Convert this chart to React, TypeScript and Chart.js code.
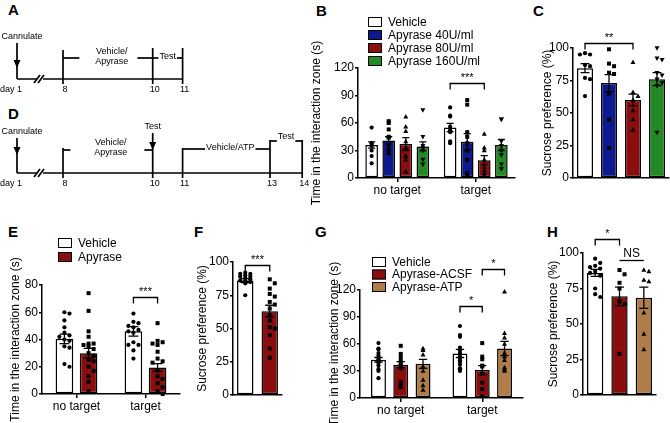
import React, { useEffect, useRef } from 'react';
import { Chart, registerables } from 'chart.js';
Chart.register(...registerables);

const FONT = '"Liberation Sans", Arial, Helvetica, sans-serif';
const WHITE = '#ffffff';
const BLUE = '#0c1a8e';
const RED = '#8a0e0e';
const GREEN = '#238a23';
const TAN = '#b07c48';

// ---------- Timelines (schematic axis positions of day marks) ----------
const tlADays = ['day 1', '8', '10', '11'];
const tlAPos = [0, 1, 2.95, 3.6];
const tlDDays = ['day 1', '8', '10', '11', '13', '14'];
const tlDPos = [0, 1, 2.95, 3.6, 5.5, 6.2];

// ---------- Panel B ----------
const bGroups = ['no target', 'target'];
const bSeries = ['Vehicle', 'Apyrase 40U/ml', 'Apyrase 80U/ml', 'Apyrase 160U/ml'];
const bMean = [[36, 55], [41, 39.5], [37, 19.5], [34.5, 36]];
const bSem = [[3.5, 4.5], [4, 9], [7, 5], [5, 6]];
const bPts = [
  [[55, 38, 37, 35, 30, 24, 16], [77, 68, 67, 56, 52, 50, 40, 38]],
  [[62, 60, 53, 44, 36, 31, 27, 45], [85, 80, 50, 45, 38, 30, 20, 5, 2]],
  [[67, 56, 51, 40, 33, 20, 7, 24], [48, 33, 30, 20, 12, 5, 2, 8]],
  [[74, 45, 35, 33, 30, 20, 15], [64, 64, 40, 35, 30, 25, 15, 10]],
];

// ---------- Panel C ----------
const cGroups = [''];
const cMean = [[84.5], [73], [60], [76]];
const cSem = [[3.5], [6.5], [4.5], [5]];
const cPts = [
  [[96, 95, 95, 87, 86, 77, 76, 63]],
  [[99, 88, 86, 81, 80, 65, 45, 23]],
  [[89, 66, 63, 60, 52, 45, 37]],
  [[100, 92, 91, 81, 79, 76, 73, 71, 35]],
];

// ---------- Panel E ----------
const eGroups = ['no target', 'target'];
const eSeries = ['Vehicle', 'Apyrase'];
const eMean = [[40.5, 46], [30, 19.5]];
const eSem = [[3.5, 3.5], [3.5, 2.8]];
const ePts = [
  [[60, 59, 54, 49, 45, 43, 42, 40, 39, 35, 34, 22, 20], [59, 53, 52, 50, 49, 47, 46, 45, 38, 36, 36, 32, 26]],
  [[74, 61, 46, 42, 37, 37, 36, 35, 33, 30, 28, 25, 24, 20, 17, 13, 9, 2], [52, 39, 38, 37, 36, 31, 26, 24, 23, 17, 13, 11, 8, 5, 2, 0]],
];

// ---------- Panel F ----------
const fGroups = [''];
const fMean = [[86], [63]];
const fSem = [[1.5], [4.5]];
const fPts = [
  [[92, 91, 91, 90, 89, 89, 88, 87, 86, 86, 85, 84, 75]],
  [[87, 84, 80, 76, 74, 70, 68, 65, 60, 56, 51, 50, 45, 35, 28]],
];

// ---------- Panel G ----------
const gGroups = ['no target', 'target'];
const gSeries = ['Vehicle', 'Apyrase-ACSF', 'Apyrase-ATP'];
const gMean = [[42.5, 49.5], [37, 31], [38, 55]];
const gSem = [[2.5, 4.5], [3.5, 5], [5, 8]];
const gPts = [
  [[61, 55, 54, 50, 47, 45, 43, 41, 39, 36, 32, 30, 22], [80, 70, 68, 56, 53, 50, 48, 45, 42, 40, 37, 33, 32, 30]],
  [[58, 49, 45, 41, 37, 36, 33, 18, 14, 12], [61, 46, 43, 36, 35, 27, 17, 10, 2]],
  [[55, 53, 48, 35, 30, 20, 14, 9], [118, 72, 67, 60, 50, 46, 42, 34, 32, 30]],
];

// ---------- Panel H ----------
const hGroups = [''];
const hMean = [[86], [69.5], [68.5]];
const hSem = [[2.5], [6.5], [7.5]];
const hPts = [
  [[96, 93, 91, 90, 89, 87, 86, 84, 75, 71, 69]],
  [[88, 85, 79, 75, 66, 64, 29]],
  [[88, 87, 81, 80, 58, 43, 32]],
];

type Marker = 'circle' | 'square' | 'triUp' | 'triDown';
interface Sig { group: number; a: number; b: number; y: number; text: string; tips?: boolean; }
interface PanelProps {
  groups: string[]; showLabels: boolean; xTicks: boolean;
  names: string[]; colors: string[]; markers: Marker[];
  mean: number[][]; sem: number[][]; pts: number[][][];
  yMax: number; yStep: number; yTitle: string;
  box: { l: number; t: number; w: number; h: number };
  plot: { l: number; t: number; r: number; b: number };
  titleX: number; catPct: number; barPct: number;
  legend?: { x: number; y: number; dy: number };
  sigs: Sig[];
}

function drawMarker(ctx: CanvasRenderingContext2D, m: Marker, x: number, y: number) {
  ctx.beginPath();
  if (m === 'circle') ctx.arc(x, y, 2.1, 0, Math.PI * 2);
  else if (m === 'square') ctx.rect(x - 2, y - 2, 4, 4);
  else if (m === 'triUp') { ctx.moveTo(x, y - 2.7); ctx.lineTo(x + 2.5, y + 1.8); ctx.lineTo(x - 2.5, y + 1.8); ctx.closePath(); }
  else { ctx.moveTo(x, y + 2.7); ctx.lineTo(x + 2.5, y - 1.8); ctx.lineTo(x - 2.5, y - 1.8); ctx.closePath(); }
  ctx.fill();
}

function swarm(ys: number[], cx: number, halfW: number, s: number): number[] {
  const order = ys.map((_, i) => i).sort((a, b) => ys[a] - ys[b]);
  const placed: { x: number; y: number }[] = [];
  const xs = new Array(ys.length).fill(cx);
  const step = s * 1.15;
  for (const i of order) {
    const y = ys[i];
    let best = cx, bestScore = Infinity;
    for (let k = 0; k < 14; k++) {
      const off = (k % 2 === 1 ? 1 : -1) * Math.ceil(k / 2) * step;
      if (Math.abs(off) > halfW) continue;
      const x = cx + off;
      let overlap = 0;
      for (const q of placed) {
        const d = Math.hypot(q.x - x, q.y - y);
        if (d < step) overlap += step - d;
      }
      if (overlap < 0.01) { best = x; bestScore = 0; break; }
      if (overlap < bestScore) { bestScore = overlap; best = x; }
    }
    xs[i] = best;
    placed.push({ x: best, y });
  }
  return xs;
}

const decor = (p: PanelProps) => ({
  id: 'decor',
  afterDatasetsDraw(chart: any) {
    const ctx: CanvasRenderingContext2D = chart.ctx;
    const ys = chart.scales.y;
    ctx.save();
    p.names.forEach((_, i) => {
      const meta = chart.getDatasetMeta(i);
      meta.data.forEach((bar: any, j: number) => {
        const w = bar.width, cx = bar.x;
        const top = ys.getPixelForValue(p.mean[i][j] + p.sem[i][j]);
        const bot = ys.getPixelForValue(p.mean[i][j] - p.sem[i][j]);
        ctx.strokeStyle = '#000';
        ctx.lineWidth = 1.3;
        ctx.beginPath();
        ctx.moveTo(cx, top); ctx.lineTo(cx, bot);
        ctx.moveTo(cx - w * 0.28, top); ctx.lineTo(cx + w * 0.28, top);
        ctx.moveTo(cx - w * 0.28, bot); ctx.lineTo(cx + w * 0.28, bot);
        ctx.stroke();
        const vals = p.pts[i][j];
        const py = vals.map((v) => ys.getPixelForValue(v));
        const px = swarm(py, cx, w / 2 - 2.5, 4.4);
        ctx.fillStyle = '#000';
        py.forEach((y, k) => drawMarker(ctx, p.markers[i], px[k], y));
      });
    });
    ctx.restore();
  },
  afterDraw(chart: any) {
    const ctx: CanvasRenderingContext2D = chart.ctx;
    const ys = chart.scales.y;
    ctx.save();
    ctx.strokeStyle = '#000';
    ctx.fillStyle = '#000';
    p.sigs.forEach((s) => {
      const xa = chart.getDatasetMeta(s.a).data[s.group].x;
      const xb = chart.getDatasetMeta(s.b).data[s.group].x;
      const y = Math.round(ys.getPixelForValue(s.y)) + 0.5;
      ctx.lineWidth = 1.3;
      ctx.beginPath();
      if (s.tips !== false) {
        ctx.moveTo(xa, y + 6); ctx.lineTo(xa, y); ctx.lineTo(xb, y); ctx.lineTo(xb, y + 6);
      } else {
        ctx.moveTo(xa, y); ctx.lineTo(xb, y);
      }
      ctx.stroke();
      const ns = s.text === 'NS';
      ctx.font = ns ? `12px ${FONT}` : `11px ${FONT}`;
      ctx.textAlign = 'center';
      ctx.textBaseline = 'bottom';
      ctx.fillText(s.text, (xa + xb) / 2, y - (ns ? 1 : 0));
    });
    if (p.legend) {
      const L = p.legend;
      const ox = L.x - p.box.l, oy = L.y - p.box.t;
      p.names.forEach((n, i) => {
        const y = oy + i * L.dy;
        ctx.fillStyle = p.colors[i];
        ctx.fillRect(ox, y - 5, 14, 10);
        ctx.lineWidth = 1;
        ctx.strokeStyle = '#000';
        ctx.strokeRect(ox + 0.5, y - 4.5, 13, 9);
        ctx.fillStyle = '#000';
        ctx.font = `12px ${FONT}`;
        ctx.textAlign = 'left';
        ctx.textBaseline = 'middle';
        ctx.fillText(n, ox + 20, y + 0.5);
      });
    }
    ctx.restore();
  },
});

function BarPanel(p: PanelProps) {
  const ref = useRef<HTMLCanvasElement>(null);
  useEffect(() => {
    const cv = ref.current!;
    const yw = p.plot.l - p.box.l;
    const xh = p.box.t + p.box.h - p.plot.b;
    const chart = new Chart(cv, {
      type: 'bar',
      data: {
        labels: p.groups,
        datasets: p.names.map((name, i) => ({
          label: name,
          data: p.mean[i],
          backgroundColor: p.colors[i],
          borderColor: '#000',
          borderWidth: 1.5,
          borderSkipped: false,
          categoryPercentage: p.catPct,
          barPercentage: p.barPct,
        })),
      },
      options: {
        responsive: false,
        animation: false,
        layout: { padding: { left: 0, top: p.plot.t - p.box.t, right: p.box.l + p.box.w - p.plot.r, bottom: 0 } },
        plugins: { legend: { display: false }, tooltip: { enabled: false } },
        scales: {
          x: {
            grid: { display: true, drawOnChartArea: false, drawTicks: p.xTicks, offset: false, color: '#000', tickLength: 4, lineWidth: 1.5 },
            border: { display: true, color: '#000', width: 1.5 },
            ticks: { display: p.showLabels, color: '#000', font: { family: FONT, size: 12 }, padding: 1, maxRotation: 0 },
            afterFit: (s: any) => { s.height = xh; },
          },
          y: {
            min: 0, max: p.yMax,
            ticks: { stepSize: p.yStep, color: '#000', font: { family: FONT, size: 12 }, padding: 1 },
            grid: { drawOnChartArea: false, color: '#000', tickLength: 3, lineWidth: 1.5 },
            border: { display: true, color: '#000', width: 1.5 },
            title: { display: true, text: p.yTitle, color: '#000', font: { family: FONT, size: 12 }, padding: { top: p.titleX - p.box.l - 7.2, bottom: 0 } },
            afterFit: (s: any) => { s.width = yw; },
          },
        },
      } as any,
      plugins: [decor(p)],
    });
    return () => chart.destroy();
  }, []);
  return <canvas ref={ref} width={p.box.w} height={p.box.h} style={{ position: 'absolute', left: p.box.l, top: p.box.t }} />;
}

// ---------- timeline drawing helpers ----------
function seg(ctx: CanvasRenderingContext2D, x1: number, y1: number, x2: number, y2: number) {
  ctx.beginPath(); ctx.moveTo(x1, y1); ctx.lineTo(x2, y2); ctx.stroke();
}
function arrowDown(ctx: CanvasRenderingContext2D, x: number, yTop: number, yTip: number, yEnd: number) {
  seg(ctx, x, yTop, x, yEnd);
  ctx.beginPath(); ctx.moveTo(x, yTip); ctx.lineTo(x - 3.5, yTip - 8); ctx.lineTo(x + 3.5, yTip - 8); ctx.closePath(); ctx.fill();
}
function txt(ctx: CanvasRenderingContext2D, s: string, x: number, y: number, align: CanvasTextAlign = 'center') {
  ctx.textAlign = align; ctx.textBaseline = 'middle'; ctx.fillText(s, x, y);
}
function brk(ctx: CanvasRenderingContext2D, x: number, B: number) {
  ctx.save();
  ctx.fillStyle = '#fff';
  ctx.fillRect(x - 3, B - 2, 6, 4);
  ctx.restore();
  seg(ctx, x - 6, B + 4, x, B - 4);
  seg(ctx, x - 2, B + 4, x + 4, B - 4);
}
function bracketText(ctx: CanvasRenderingContext2D, x1: number, x2: number, level: number, lines: string[], cx: number, ty: number[], gapL: number, gapR: number) {
  const w = Math.max(...lines.map((l) => ctx.measureText(l).width));
  lines.forEach((l, i) => txt(ctx, l, cx, ty[i]));
  seg(ctx, x1, level, cx - w / 2 - gapL, level);
  seg(ctx, cx + w / 2 + gapR, level, x2, level);
}

function drawTimelineA(ctx: CanvasRenderingContext2D, X: number[], B: number) {
  ctx.lineWidth = 1.7;
  seg(ctx, X[0], B, X[3], B);
  brk(ctx, (X[0] + X[1]) / 2, B);
  arrowDown(ctx, X[0], B - 36, B - 11, B);
  txt(ctx, 'Cannulate', X[0] + 5, B - 42);
  seg(ctx, X[1], B - 29, X[1], B + 5);
  seg(ctx, X[2], B - 31, X[2], B + 5);
  seg(ctx, X[3], B - 31, X[3], B + 5);
  const c1 = (X[1] + X[2]) / 2 + 4;
  bracketText(ctx, X[1], X[2], B - 21, ['Vehicle/', 'Apyrase'], c1, [B - 27, B - 17], 16, 9);
  const c2 = (X[2] + X[3]) / 2;
  bracketText(ctx, X[2], X[3], B - 21, ['Test'], c2, [B - 22], 1, 1);
  txt(ctx, tlADays[0], X[0] + 5, B + 11, 'right');
  for (let i = 1; i < X.length; i++) txt(ctx, tlADays[i], X[i] + 2, B + 11);
}

function drawTimelineD(ctx: CanvasRenderingContext2D, X: number[], B: number) {
  ctx.lineWidth = 1.7;
  seg(ctx, X[0], B, X[5], B);
  brk(ctx, (X[0] + X[1]) / 2, B);
  arrowDown(ctx, X[0], B - 35, B - 18, B);
  txt(ctx, 'Cannulate', X[0] + 5, B - 41);
  seg(ctx, X[1], B - 25, X[1], B + 5);
  arrowDown(ctx, X[2], B - 40, B - 23, B + 5);
  txt(ctx, 'Test', X[2], B - 46);
  seg(ctx, X[3], B - 25, X[3], B + 5);
  seg(ctx, X[4], B - 33, X[4], B + 5);
  seg(ctx, X[5], B - 33, X[5], B + 5);
  const c1 = (X[1] + X[2]) / 2 + 3;
  bracketText(ctx, X[1], X[2], B - 23, ['Vehicle/', 'Apyrase'], c1, [B - 30, B - 20], 24, 17);
  const c2 = (X[3] + X[4]) / 2 + 4;
  bracketText(ctx, X[3], X[4], B - 24, ['Vehicle/ATP'], c2, [B - 25], 1, 1);
  const c3 = (X[4] + X[5]) / 2;
  bracketText(ctx, X[4], X[5], B - 32, ['Test'], c3, [B - 36], 1, 1);
  txt(ctx, tlDDays[0], X[0] + 5, B + 11, 'right');
  for (let i = 1; i < X.length; i++) txt(ctx, tlDDays[i], X[i] + 2, B + 11);
}

function Timeline(props: { l: number; t: number; w: number; h: number; pos: number[]; baseline: number; draw: (ctx: CanvasRenderingContext2D, X: number[], B: number) => void }) {
  const ref = useRef<HTMLCanvasElement>(null);
  useEffect(() => {
    const unit = 46, origin = 17;
    const chart = new Chart(ref.current!, {
      type: 'scatter',
      data: { datasets: [{ data: props.pos.map((x) => ({ x, y: 0 })), pointRadius: 0 }] },
      options: {
        responsive: false,
        animation: false,
        layout: { padding: 0 },
        plugins: { legend: { display: false }, tooltip: { enabled: false } },
        scales: {
          x: { type: 'linear', display: false, min: -origin / unit, max: (props.w - origin) / unit },
          y: { type: 'linear', display: false, min: -1, max: 1 },
        },
      } as any,
      plugins: [{
        id: 'tl',
        afterDraw(c: any) {
          const ctx: CanvasRenderingContext2D = c.ctx;
          const X = props.pos.map((v) => c.scales.x.getPixelForValue(v));
          ctx.save();
          ctx.strokeStyle = '#000';
          ctx.fillStyle = '#000';
          ctx.font = `9px ${FONT}`;
          props.draw(ctx, X, props.baseline);
          ctx.restore();
        },
      }],
    });
    return () => chart.destroy();
  }, []);
  return <canvas ref={ref} width={props.w} height={props.h} style={{ position: 'absolute', left: props.l, top: props.t }} />;
}

const letterStyle = (x: number, y: number): React.CSSProperties => ({
  position: 'absolute', left: x, top: y, font: `bold 15px ${FONT}`, lineHeight: '15px', color: '#000',
});

export default function App() {
  const c4 = [WHITE, BLUE, RED, GREEN];
  const m4: Marker[] = ['circle', 'square', 'triUp', 'triDown'];
  const c2 = [WHITE, RED];
  const m2: Marker[] = ['circle', 'square'];
  const c3 = [WHITE, RED, TAN];
  const m3: Marker[] = ['circle', 'square', 'triUp'];
  const timeTitle = 'Time in the interaction zone (s)';
  const sucTitle = 'Sucrose preference (%)';
  return (
    <div style={{ position: 'absolute', left: 0, top: 0, width: 670, height: 423, background: '#fff', overflow: 'hidden' }}>
      <div style={letterStyle(8, 2)}>A</div>
      <div style={letterStyle(8, 106)}>D</div>
      <div style={letterStyle(316, 3)}>B</div>
      <div style={letterStyle(533, 3)}>C</div>
      <div style={letterStyle(8, 224)}>E</div>
      <div style={letterStyle(194, 224)}>F</div>
      <div style={letterStyle(315, 224)}>G</div>
      <div style={letterStyle(547, 224)}>H</div>
      <Timeline l={0} t={20} w={200} h={85} pos={tlAPos} baseline={59} draw={drawTimelineA} />
      <Timeline l={0} t={110} w={320} h={85} pos={tlDPos} baseline={63} draw={drawTimelineD} />
      <BarPanel groups={bGroups} showLabels xTicks names={bSeries} colors={c4} markers={m4}
        mean={bMean} sem={bSem} pts={bPts} yMax={120} yStep={30} yTitle={timeTitle}
        box={{ l: 306, t: 0, w: 214, h: 212 }} plot={{ l: 358, t: 68, r: 515, b: 178 }} titleX={317}
        catPct={0.87} barPct={0.74} legend={{ x: 368, y: 22, dy: 13 }}
        sigs={[{ group: 1, a: 0, b: 2, y: 104, text: '***' }]} />
      <BarPanel groups={cGroups} showLabels={false} xTicks={false} names={bSeries} colors={c4} markers={m4}
        mean={cMean} sem={cSem} pts={cPts} yMax={100} yStep={25} yTitle={sucTitle}
        box={{ l: 536, t: 0, w: 134, h: 200 }} plot={{ l: 573, t: 48, r: 669, b: 178 }} titleX={548}
        catPct={1} barPct={0.67}
        sigs={[{ group: 0, a: 0, b: 2, y: 104, text: '**' }]} />
      <BarPanel groups={eGroups} showLabels xTicks names={eSeries} colors={c2} markers={m2}
        mean={eMean} sem={eSem} pts={ePts} yMax={80} yStep={20} yTitle={timeTitle}
        box={{ l: 0, t: 200, w: 184, h: 223 }} plot={{ l: 42, t: 285, r: 180, b: 394 }} titleX={16}
        catPct={0.7} barPct={0.73} legend={{ x: 58, y: 243, dy: 14 }}
        sigs={[{ group: 1, a: 0, b: 1, y: 71, text: '***' }]} />
      <BarPanel groups={fGroups} showLabels={false} xTicks={false} names={eSeries} colors={c2} markers={m2}
        mean={fMean} sem={fSem} pts={fPts} yMax={100} yStep={25} yTitle={sucTitle}
        box={{ l: 190, t: 200, w: 95, h: 223 }} plot={{ l: 233, t: 262, r: 282, b: 395 }} titleX={203}
        catPct={1} barPct={0.67}
        sigs={[{ group: 0, a: 0, b: 1, y: 98, text: '***' }]} />
      <BarPanel groups={gGroups} showLabels xTicks names={gSeries} colors={c3} markers={m3}
        mean={gMean} sem={gSem} pts={gPts} yMax={120} yStep={30} yTitle={timeTitle}
        box={{ l: 324, t: 200, w: 202, h: 223 }} plot={{ l: 360, t: 290, r: 523, b: 398 }} titleX={335}
        catPct={0.82} barPct={0.67} legend={{ x: 372, y: 262, dy: 12.5 }}
        sigs={[{ group: 1, a: 0, b: 1, y: 102, text: '*' }, { group: 1, a: 1, b: 2, y: 143, text: '*' }]} />
      <BarPanel groups={hGroups} showLabels={false} xTicks={false} names={gSeries} colors={c3} markers={m3}
        mean={hMean} sem={hSem} pts={hPts} yMax={100} yStep={25} yTitle={sucTitle}
        box={{ l: 540, t: 200, w: 130, h: 223 }} plot={{ l: 583, t: 253, r: 656, b: 395 }} titleX={554}
        catPct={1} barPct={0.67}
        sigs={[{ group: 0, a: 0, b: 1, y: 110, text: '*' }, { group: 0, a: 1, b: 2, y: 95, text: 'NS', tips: false }]} />
    </div>
  );
}
